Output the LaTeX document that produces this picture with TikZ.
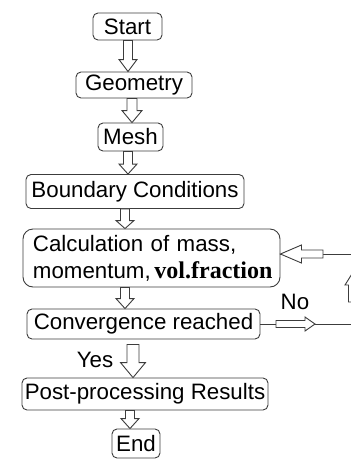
\documentclass[tikz,border=0pt]{standalone}
\usepackage{fontspec}
\setmainfont{Liberation Sans}
\newfontfamily\boldserif{Liberation Serif}
\usetikzlibrary{calc}
\definecolor{linegray}{RGB}{60,60,60}

% Hollow block arrow from #1 (tail) to #2 (tip):
% #3 shaft half width, #4 head half width, #5 head length
\newcommand\blockarrow[5]{%
  \coordinate (ba-t) at (#1);
  \coordinate (ba-p) at (#2);
  \coordinate (ba-h) at ($(ba-p)!#5!(ba-t)$);
  \draw[blk] ($(ba-t)!#3!90:(ba-p)$) -- ($(ba-h)!#3!90:(ba-p)$)
    -- ($(ba-h)!#4!90:(ba-p)$) -- (ba-p) -- ($(ba-h)!#4!-90:(ba-p)$)
    -- ($(ba-h)!#3!-90:(ba-p)$) -- ($(ba-t)!#3!-90:(ba-p)$) -- cycle;}

\begin{document}
\begin{tikzpicture}[x=1pt,y=-1pt,
  box/.style={draw=linegray, line width=0.9pt, rounded corners=5pt,
    inner sep=0pt, font=\fontsize{22.3}{27}\selectfont},
  blk/.style={draw=linegray, line width=0.9pt, fill=white, line join=miter},
  conn/.style={draw=linegray, line width=0.9pt},
  lbl/.style={inner sep=0pt, font=\fontsize{22.3}{27}\selectfont}]
\useasboundingbox (0,0) rectangle (351,459);
\clip (0,0) rectangle (351,459);

% process steps
\node[box, minimum width=69pt, minimum height=27pt] (start) at (127.5,26.5) {Start};
\node[box, minimum width=116pt, minimum height=26pt] (geom) at (134,85) {Geometry};
\node[box, minimum width=65pt, minimum height=28pt] (mesh) at (130.5,137) {Mesh};
\node[box, minimum width=218pt, minimum height=34pt] (bc) at (135,191.5) {Boundary Conditions};
\node[box, rounded corners=10pt, minimum width=257pt, minimum height=58pt,
      text width=237pt, align=left] (calc) at (151.5,258)
  {Calculation of mass,\\momentum,\,{\boldserif\bfseries\fontsize{24}{27}\selectfont vol.fraction}};
\node[box, minimum width=233pt, minimum height=30pt] (conv) at (143.5,324) {Convergence reached};
\node[box, minimum width=246pt, minimum height=32pt] (post) at (145,394) {Post-processing Results};
\node[box, minimum width=48pt, minimum height=29pt] (end) at (136,443.5) {End};

% decision labels
\node[lbl] (yes) at (95,360) {Yes};
\node[lbl] (no) at (295,302) {No};

% main flow
\blockarrow{128,0 |- start.south}{128,0 |- geom.north}{4.5pt}{9pt}{12pt}
\blockarrow{132,0 |- geom.south}{132,0 |- mesh.north}{5pt}{10pt}{12pt}
\blockarrow{128,0 |- mesh.south}{128,0 |- bc.north}{4.5pt}{9pt}{10pt}
\blockarrow{125,0 |- bc.south}{125,0 |- calc.north}{4.5pt}{9pt}{8pt}
\blockarrow{125,0 |- calc.south}{125,0 |- conv.north}{4.5pt}{9pt}{10pt}
\blockarrow{$(133,0 |- conv.south)+(0,5)$}{133,0 |- post.north}{6pt}{12.5pt}{15pt}
\blockarrow{130,0 |- post.south}{130,0 |- end.north}{4.5pt}{9pt}{10pt}

% feedback loop
\coordinate (r1) at (352.5,0 |- conv.east);
\coordinate (r2) at (352.5,254);
\draw[conn] (conv.east) -- (r1) -- (r2) -- (calc.east |- r2);
\blockarrow{276,0 |- conv.east}{315,0 |- conv.east}{3.5pt}{7pt}{10pt}
\blockarrow{352.5,302}{352.5,273}{4pt}{7.5pt}{12pt}
\blockarrow{323,254}{calc.east |- r2}{4pt}{9pt}{21pt}
\end{tikzpicture}
\end{document}
